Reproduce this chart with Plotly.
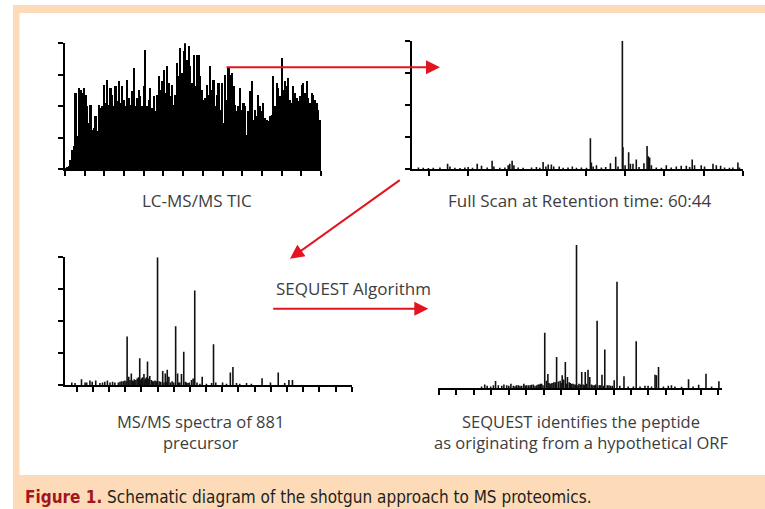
import plotly.graph_objects as go

W, H = 765, 509

# ---------------- data ----------------
# Panel 1: LC-MS/MS total ion chromatogram (arbitrary intensity units, axis top = 378)
tic_intensity = [
    3, 5, 8, 28, 58, 68, 228, 98, 243, 238, 228, 243, 223, 188, 138, 193, 118, 123, 158, 113,
    193, 183, 188, 253, 198, 268, 193, 243, 223, 188, 248, 203, 263, 198, 248, 208, 188, 268,
    213, 193, 233, 303, 188, 213, 238, 218, 188, 248, 358, 188, 208, 243, 183, 218, 173, 223,
    278, 238, 263, 298, 228, 308, 258, 218, 253, 193, 223, 318, 278, 363, 288, 353, 383, 328,
    368, 308, 258, 343,
    248, 343, 343, 278, 238, 208, 213, 253, 223, 308, 238, 268, 188, 223, 258, 178, 258, 138,
    283, 208, 303, 283, 288, 248, 193, 173, 188, 243, 178, 198, 188, 103, 173, 233, 263, 148,
    178, 158, 223, 188, 173, 198, 153, 148, 143, 158, 163, 278, 188, 258, 243, 218, 333, 238,
    263, 248, 273, 208, 198, 248, 228, 213, 203, 218, 253, 258, 228, 263, 213, 198, 228, 223,
    208, 198, 178, 148,
]
tic_max = 378

# Panel 2: full scan at retention time 60:44 (m/z, relative intensity)
fs_mz = [346, 371, 397, 422, 456, 495, 507, 532, 558, 583, 600, 622, 646, 668, 697, 722, 731,
         761, 787, 804, 812, 824, 833, 855, 880, 923, 948, 965, 982, 996, 1008, 1024, 1036,
         1064, 1084, 1109, 1131, 1152, 1177, 1203, 1223, 1228, 1237, 1254, 1279, 1301, 1325,
         1352, 1364, 1386, 1389, 1400, 1418, 1427, 1440, 1457, 1471, 1496, 1512, 1518, 1525,
         1534, 1559, 1585, 1610, 1635, 1661, 1686, 1712, 1729, 1742, 1754, 1788, 1805, 1848,
         1865, 1887, 1907, 1932, 1949, 1975, 1983]
fs_int = [0.012, 0.01, 0.008, 0.01, 0.012, 0.04, 0.02, 0.01, 0.008, 0.012, 0.015, 0.01, 0.04,
          0.025, 0.012, 0.065, 0.02, 0.01, 0.012, 0.03, 0.04, 0.065, 0.03, 0.012, 0.01, 0.012,
          0.015, 0.01, 0.055, 0.02, 0.035, 0.035, 0.02, 0.02, 0.01, 0.012, 0.02, 0.01, 0.012,
          0.01, 0.24, 0.05, 0.02, 0.03, 0.012, 0.015, 0.044, 0.096, 0.02, 1.0, 0.17, 0.03,
          0.13, 0.04, 0.04, 0.075, 0.015, 0.045, 0.18, 0.1, 0.09, 0.03, 0.012, 0.01, 0.03,
          0.012, 0.02, 0.025, 0.025, 0.015, 0.075, 0.03, 0.03, 0.02, 0.04, 0.03, 0.025, 0.012,
          0.01, 0.012, 0.05, 0.012]
fs_ticks = [400, 600, 800, 1000, 1200, 1400, 1600, 1800, 2000]

# Panel 3: MS/MS spectrum of precursor 881
ms2_mz = [85, 95, 115, 126, 131, 141, 148, 159, 172, 180, 187, 195, 203, 211, 218, 229, 234,
          239, 244, 249, 256, 261, 269, 275, 283, 287, 291, 295, 300, 304, 308, 312, 316, 319,
          323, 326, 331, 337, 342, 347, 350, 355, 360, 366, 374, 380, 385, 390, 400, 406, 412,
          419, 424, 431, 439, 448, 455, 460, 465, 472, 481, 488, 501, 517, 523, 530, 551, 563,
          575, 583, 594, 604, 625, 640, 673, 699, 723, 743, 756, 767,
          253, 265, 272, 278, 297, 302, 310, 314, 334, 345, 370, 377, 395, 415, 436, 444]
ms2_int = [0.02, 0.015, 0.045, 0.02, 0.02, 0.035, 0.025, 0.035, 0.015, 0.02, 0.025, 0.035,
           0.02, 0.025, 0.02, 0.02, 0.025, 0.03, 0.03, 0.035, 0.38, 0.065, 0.09, 0.03, 0.04,
           0.05, 0.06, 0.21, 0.05, 0.06, 0.086, 0.05, 0.06, 0.185, 0.05, 0.07, 0.04, 0.03,
           0.035, 0.03, 1.0, 0.03, 0.025, 0.11, 0.09, 0.12, 0.065, 0.02, 0.02, 0.46, 0.09,
           0.02, 0.086, 0.26, 0.02, 0.02, 0.04, 0.05, 0.74, 0.02, 0.01, 0.065, 0.01, 0.015,
           0.32, 0.02, 0.02, 0.01, 0.097, 0.14, 0.015, 0.01, 0.015, 0.01, 0.052, 0.02, 0.097,
           0.015, 0.04, 0.04,
           0.03, 0.04, 0.035, 0.045, 0.04, 0.05, 0.035, 0.04, 0.03, 0.025, 0.02, 0.025, 0.03,
           0.02, 0.025, 0.015]
ms2_ticks = list(range(100, 951, 50))

# Panel 4: SEQUEST-matched spectrum
sq_mz = [222, 231, 238, 248, 256, 262, 270, 280, 286, 294, 306, 313, 322, 332, 343, 351, 361,
         370, 380, 387, 394, 403, 408, 412, 418, 424, 429, 437, 442, 447, 453, 457, 462, 468,
         473, 480, 487, 494, 501, 509, 513, 519, 527, 532, 537, 545, 553, 559, 567, 575, 582,
         592, 602, 610, 618, 630, 642, 657, 665, 676, 690, 699, 709, 719, 723, 729, 743, 757,
         766, 776, 795, 815, 828, 844, 865, 881, 902,
         300, 318, 327, 337, 347, 356, 365, 375, 384, 391, 398, 415, 421, 433, 450, 465, 476,
         484, 491, 498, 505, 516, 523, 541, 549, 563, 571, 587, 597]
sq_int = [0.01, 0.025, 0.015, 0.01, 0.02, 0.049, 0.02, 0.015, 0.025, 0.02, 0.03, 0.015, 0.02,
          0.015, 0.03, 0.02, 0.02, 0.025, 0.02, 0.025, 0.03, 0.386, 0.05, 0.098, 0.03, 0.035,
          0.04, 0.217, 0.045, 0.05, 0.089, 0.06, 0.182, 0.077, 0.04, 0.03, 0.025, 1.0, 0.03,
          0.112, 0.025, 0.112, 0.128, 0.077, 0.025, 0.02, 0.47, 0.02, 0.093, 0.269, 0.02,
          0.015, 0.054, 0.743, 0.015, 0.082, 0.01, 0.01, 0.327, 0.01, 0.015, 0.015, 0.01,
          0.093, 0.09, 0.147, 0.01, 0.015, 0.02, 0.01, 0.008, 0.061, 0.01, 0.023, 0.1, 0.01,
          0.047,
          0.015, 0.012, 0.02, 0.015, 0.018, 0.02, 0.022, 0.015, 0.025, 0.03, 0.02, 0.035, 0.03,
          0.04, 0.035, 0.03, 0.035, 0.03, 0.025, 0.02, 0.025, 0.02, 0.03, 0.02, 0.025, 0.02,
          0.015, 0.02, 0.015]
sq_ticks = list(range(100, 901, 50))

labels = {
    "tic": "LC-MS/MS TIC",
    "fs": "Full Scan at Retention time: 60:44",
    "ms2": "MS/MS spectra of 881<br>precursor",
    "sq": "SEQUEST identifies the peptide<br>as originating from a hypothetical ORF",
    "alg": "SEQUEST Algorithm",
}
caption_bold = "Figure 1."
caption_rest = "Schematic diagram of the shotgun approach to MS proteomics."

# ---------------- helpers ----------------
def fx(x):
    return x / W

def fy(y):
    return 1 - y / H

def stems(xs, ys):
    sx, sy = [], []
    for x, y in zip(xs, ys):
        sx += [x, x, None]
        sy += [0, y, None]
    return sx, sy

STEM = dict(color="#111111", width=1.6)
TEXT = "#3d3d3d"
RED = "#e2141f"

fig = go.Figure()

# panel 1 bars
fig.add_trace(go.Bar(x=[i + 0.5 for i in range(len(tic_intensity))], y=tic_intensity,
                     width=1.0, marker=dict(color="#000000", line=dict(width=0)),
                     xaxis="x", yaxis="y", cliponaxis=False, showlegend=False,
                     hoverinfo="skip"))

for (mz, it, xa, ya) in [(fs_mz, fs_int, "x2", "y2"), (ms2_mz, ms2_int, "x3", "y3"),
                         (sq_mz, sq_int, "x4", "y4")]:
    sx, sy = stems(mz, it)
    fig.add_trace(go.Scatter(x=sx, y=sy, mode="lines", line=STEM, xaxis=xa, yaxis=ya,
                             showlegend=False, hoverinfo="skip", cliponaxis=False))

common_x = dict(showgrid=False, zeroline=False, showline=True, linecolor="black",
                linewidth=1.6, ticks="outside", ticklen=5, tickwidth=1.5, tickcolor="black",
                showticklabels=False, fixedrange=True)
common_y = dict(showgrid=False, zeroline=False, showline=True, linecolor="black",
                linewidth=2, ticks="outside", ticklen=5, tickwidth=1.5, tickcolor="black",
                showticklabels=False, fixedrange=True)

n = len(tic_intensity)
fig.update_layout(
    width=W, height=H, margin=dict(l=0, r=0, t=0, b=0),
    template="none",
    paper_bgcolor="white", plot_bgcolor="rgba(0,0,0,0)",
    bargap=0,
    font=dict(family="Open Sans", color=TEXT, size=17),
    xaxis=dict(common_x, domain=[fx(65), fx(321)], range=[0, n], anchor="y",
               tickmode="linear", tick0=0, dtick=n / 13),
    yaxis=dict(common_y, domain=[fy(169.3), fy(43.3)], range=[0, tic_max], anchor="x",
               tickmode="linear", tick0=0, dtick=tic_max / 4),
    xaxis2=dict(common_x, domain=[fx(411.7), fx(743)], range=[312, 2001], anchor="y2",
                tickmode="array", tickvals=fs_ticks),
    yaxis2=dict(common_y, domain=[fy(169), fy(40.7)], range=[0, 1], anchor="x2",
                tickmode="linear", tick0=0, dtick=0.25),
    xaxis3=dict(common_x, domain=[fx(65), fx(352)], range=[64, 951], anchor="y3",
                tickmode="array", tickvals=ms2_ticks),
    yaxis3=dict(common_y, domain=[fy(385), fy(257.3)], range=[0, 1], anchor="x3",
                tickmode="linear", tick0=0, dtick=0.25),
    xaxis4=dict(common_x, domain=[fx(438.3), fx(721.7)], range=[98, 910], anchor="y4",
                tickmode="array", tickvals=sq_ticks),
    yaxis4=dict(domain=[fy(388), fy(245)], range=[0, 1], anchor="x4", visible=False,
                fixedrange=True),
)

# frame
fig.add_shape(type="rect", xref="paper", yref="paper", x0=fx(13), x1=fx(770), y0=fy(512),
              y1=fy(5), fillcolor="#fddbb8", line=dict(width=0), layer="below")
fig.add_shape(type="rect", xref="paper", yref="paper", x0=fx(19.5), x1=fx(770), y0=fy(475),
              y1=fy(13), fillcolor="white", line=dict(width=0), layer="below")

def label(text, x, y, size=17):
    fig.add_annotation(text=text, x=fx(x), y=fy(y), xref="paper", yref="paper",
                       xanchor="center", yanchor="middle", showarrow=False, align="center",
                       font=dict(size=size, color=TEXT, family="Open Sans"))

label(labels["tic"], 197, 200.5)
label(labels["fs"], 580, 200.5)
label(labels["ms2"], 200.5, 432, size=16.5)
label(labels["sq"], 580.5, 432, size=16.5)
label(labels["alg"], 353, 288)

def arrow(tip, tail):
    fig.add_annotation(text="", x=fx(tip[0]), y=fy(tip[1]), xref="paper", yref="paper",
                       ax=tail[0] - tip[0], ay=tail[1] - tip[1], axref="pixel", ayref="pixel",
                       showarrow=True, arrowhead=2, arrowsize=1.4, arrowwidth=2,
                       arrowcolor=RED, standoff=0)

arrow((440, 67.3), (225, 67.3))
arrow((290, 258.7), (401.3, 179))
arrow((428.3, 308.7), (271.7, 308.7))

fig.add_annotation(
    text=f"<b><span style='color:#a3151f'>{caption_bold}</span></b> {caption_rest}",
    x=fx(23), y=fy(496.5), xref="paper", yref="paper", xanchor="left", yanchor="middle",
    showarrow=False,
    font=dict(size=17, color="#231f20",
              family="Liberation Sans Narrow, DejaVu Sans Condensed, Arial Narrow, sans-serif"))

fig.write_html("out.html")
